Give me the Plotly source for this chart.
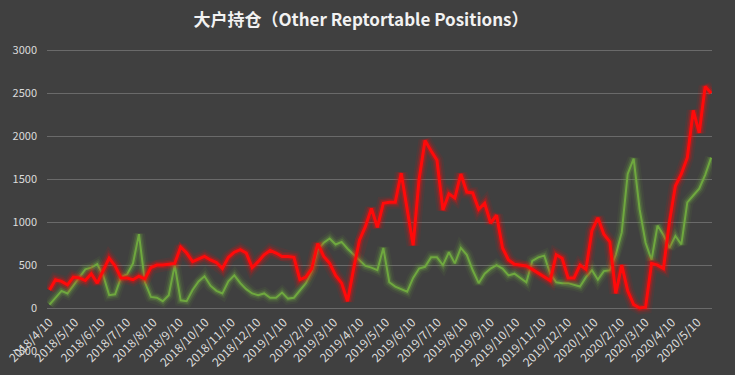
import pandas as pd
import plotly.graph_objects as go

TITLE = "大户持仓（Other Reptortable Positions）"
START_DATE = "2018-04-10"

RED_VALUES = [
    210, 330, 310, 270, 360, 350, 320, 400, 290, 440,
    580, 490, 350, 350, 330, 370, 340, 470, 500, 500,
    510, 520, 710, 640, 540, 570, 600, 560, 530, 460,
    590, 650, 680, 640, 470, 540, 620, 670, 640, 600,
    600, 590, 330, 360, 460, 750, 600, 520, 380, 290,
    80, 450, 790, 950, 1160, 940, 1220, 1230, 1230, 1570,
    1150, 730, 1500, 1950, 1830, 1720, 1140, 1330, 1280, 1560,
    1350, 1340, 1150, 1220, 990, 1080, 700, 560, 510, 500,
    490, 450, 410, 360, 320, 620, 580, 350, 350, 500,
    450, 900, 1050, 860, 770, 170, 500, 200, 40, 0,
    10, 520, 500, 460, 1000, 1420, 1560, 1750, 2300, 2040,
    2580, 2500,
]

GREEN_VALUES = [
    40, 120, 200, 170, 260, 350, 450, 470, 510, 380,
    150, 160, 360, 390, 520, 860, 300, 130, 120, 80,
    150, 500, 90, 80, 210, 310, 370, 260, 200, 170,
    310, 380, 290, 220, 170, 150, 170, 120, 120, 180,
    110, 120, 200, 290, 430, 680, 760, 810, 740, 770,
    690, 620, 560, 490, 470, 440, 700, 300, 250, 220,
    190, 350, 460, 480, 590, 590, 500, 650, 520, 700,
    620, 440, 290, 400, 460, 500, 460, 380, 400, 350,
    300, 550, 590, 610, 400, 300, 290, 290, 270, 250,
    360, 440, 330, 430, 440, 620, 880, 1560, 1740, 1150,
    760, 560, 960, 850, 700, 840, 740, 1230, 1310, 1390,
    1550, 1750,
]

X_TICK_LABELS = [
    "2018/4/10", "2018/5/10", "2018/6/10", "2018/7/10", "2018/8/10",
    "2018/9/10", "2018/10/10", "2018/11/10", "2018/12/10", "2019/1/10",
    "2019/2/10", "2019/3/10", "2019/4/10", "2019/5/10", "2019/6/10",
    "2019/7/10", "2019/8/10", "2019/9/10", "2019/10/10", "2019/11/10",
    "2019/12/10", "2020/1/10", "2020/2/10", "2020/3/10", "2020/4/10",
    "2020/5/10",
]

Y_TICKS = [-500, 0, 500, 1000, 1500, 2000, 2500, 3000]

dates = pd.date_range(START_DATE, periods=len(RED_VALUES), freq="7D")
tick_dates = [pd.to_datetime(s, format="%Y/%m/%d") for s in X_TICK_LABELS]

BG = "#404040"
FONT = "Noto Sans CJK SC"
TXT = "#dcdcdc"

fig = go.Figure()


def add_glow(y, color, width, name):
    for w, op in [(width + 10, 0.08), (width + 6, 0.15), (width + 3, 0.28)]:
        fig.add_trace(go.Scatter(
            x=dates, y=y, mode="lines", line=dict(color=color, width=w),
            opacity=op, hoverinfo="skip", showlegend=False))
    fig.add_trace(go.Scatter(
        x=dates, y=y, mode="lines", line=dict(color=color, width=width),
        name=name, showlegend=False))


add_glow(GREEN_VALUES, "#6fa83f", 2, "green")
add_glow(RED_VALUES, "#ff0a0a", 3, "red")

Y_RANGE = [-500, 3050]

fig.update_layout(
    width=735, height=375,
    paper_bgcolor=BG, plot_bgcolor=BG,
    margin=dict(l=47, r=23, t=46, b=24),
    title=dict(text="<b>" + TITLE + "</b>", x=361 / 735, xref="container",
               xanchor="center", y=1 - 20 / 375, yref="container",
               yanchor="middle",
               font=dict(family=FONT, size=17, color="#f2f2f2")),
    showlegend=False,
    xaxis=dict(
        type="date",
        range=["2018-04-07", "2020-05-27"],
        tickvals=tick_dates, ticktext=X_TICK_LABELS,
        tickangle=-45, showgrid=False, zeroline=False, showline=False,
        ticks="", anchor="free", position=500 / 3550,
        tickfont=dict(family=FONT, size=12, color=TXT),
        automargin=False, ticklabelstandoff=4,
    ),
    yaxis=dict(
        range=Y_RANGE, tickvals=Y_TICKS, showgrid=True,
        gridcolor="#6a6a6a", gridwidth=1,
        zeroline=False, showline=False, ticks="",
        tickfont=dict(family=FONT, size=11, color=TXT),
        automargin=False, ticklabelstandoff=9,
    ),
)

fig.write_html(
    "out.html",
    config={"displayModeBar": False},
    post_script="document.body.style.margin='0';"
                "document.body.style.background='#404040';",
)
